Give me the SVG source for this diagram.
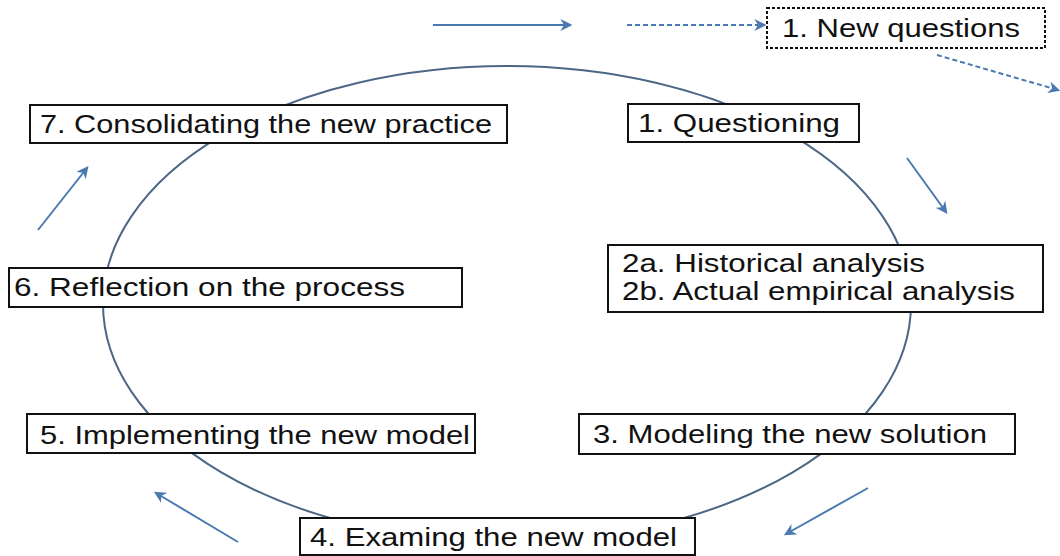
<svg xmlns="http://www.w3.org/2000/svg" width="1060" height="556" viewBox="0 0 1060 556">
<defs>
<marker id="ah" viewBox="0 0 10 10" refX="8" refY="5" markerWidth="6" markerHeight="6" orient="auto" markerUnits="strokeWidth">
<path d="M0,0 L10,5 L0,10 L3,5 z" fill="#4a7ab0"/>
</marker>
<style>
.box{fill:#fff;stroke:#111;stroke-width:2}
.dbox{fill:#fff;stroke:#111;stroke-width:2;stroke-dasharray:3 2}
.t{font-family:"Liberation Sans",Arial,sans-serif;font-size:25px;fill:#111}
.arr{stroke:#4a7ab0;stroke-width:2;fill:none;marker-end:url(#ah)}
.darr{stroke:#4a7ab0;stroke-width:2;fill:none;stroke-dasharray:5 3;marker-end:url(#ah)}
.cyc{fill:none;stroke:#4b6785;stroke-width:2}
</style>
</defs>
<rect width="1060" height="556" fill="#fff"/>
<g id="connectors">
<ellipse class="cyc" cx="507" cy="304" rx="404" ry="238"/>
<line class="arr" x1="433" y1="25" x2="570" y2="25"/>
<line class="darr" x1="627" y1="25" x2="764" y2="25"/>
<line class="darr" x1="937" y1="55" x2="1058" y2="90"/>
<line class="arr" x1="907" y1="158" x2="946" y2="212"/>
<line class="arr" x1="868" y1="488" x2="786" y2="534"/>
<line class="arr" x1="238" y1="542" x2="156" y2="493"/>
<line class="arr" x1="38" y1="230" x2="87" y2="168"/>
</g>
<g id="new-questions">
<rect class="dbox" x="767" y="8" width="278" height="40"/>
<text class="t" x="782" y="37" textLength="238" lengthAdjust="spacingAndGlyphs">1. New questions</text>
</g>
<g id="n1">
<rect class="box" x="628" y="104" width="231" height="38"/>
<text class="t" x="638" y="132" textLength="202" lengthAdjust="spacingAndGlyphs">1. Questioning</text>
</g>
<g id="n2">
<rect class="box" x="608" y="245" width="435" height="67"/>
<text class="t" x="622" y="272" textLength="303" lengthAdjust="spacingAndGlyphs">2a. Historical analysis</text>
<text class="t" x="622" y="300" textLength="393" lengthAdjust="spacingAndGlyphs">2b. Actual  empirical analysis</text>
</g>
<g id="n3">
<rect class="box" x="579" y="414" width="436" height="40"/>
<text class="t" x="593" y="443" textLength="394" lengthAdjust="spacingAndGlyphs">3. Modeling the new solution</text>
</g>
<g id="n4">
<rect class="box" x="300" y="518" width="395" height="37"/>
<text class="t" x="310" y="546" textLength="367" lengthAdjust="spacingAndGlyphs">4. Examing the new model</text>
</g>
<g id="n5">
<rect class="box" x="27" y="414" width="448" height="39"/>
<text class="t" x="40" y="444" textLength="430" lengthAdjust="spacingAndGlyphs">5. Implementing the new model</text>
</g>
<g id="n6">
<rect class="box" x="9" y="268" width="453" height="39"/>
<text class="t" x="14" y="296" textLength="391" lengthAdjust="spacingAndGlyphs">6. Reflection on the process</text>
</g>
<g id="n7">
<rect class="box" x="30" y="105" width="477" height="38"/>
<text class="t" x="40" y="133" textLength="452" lengthAdjust="spacingAndGlyphs">7. Consolidating the new practice</text>
</g>
</svg>
